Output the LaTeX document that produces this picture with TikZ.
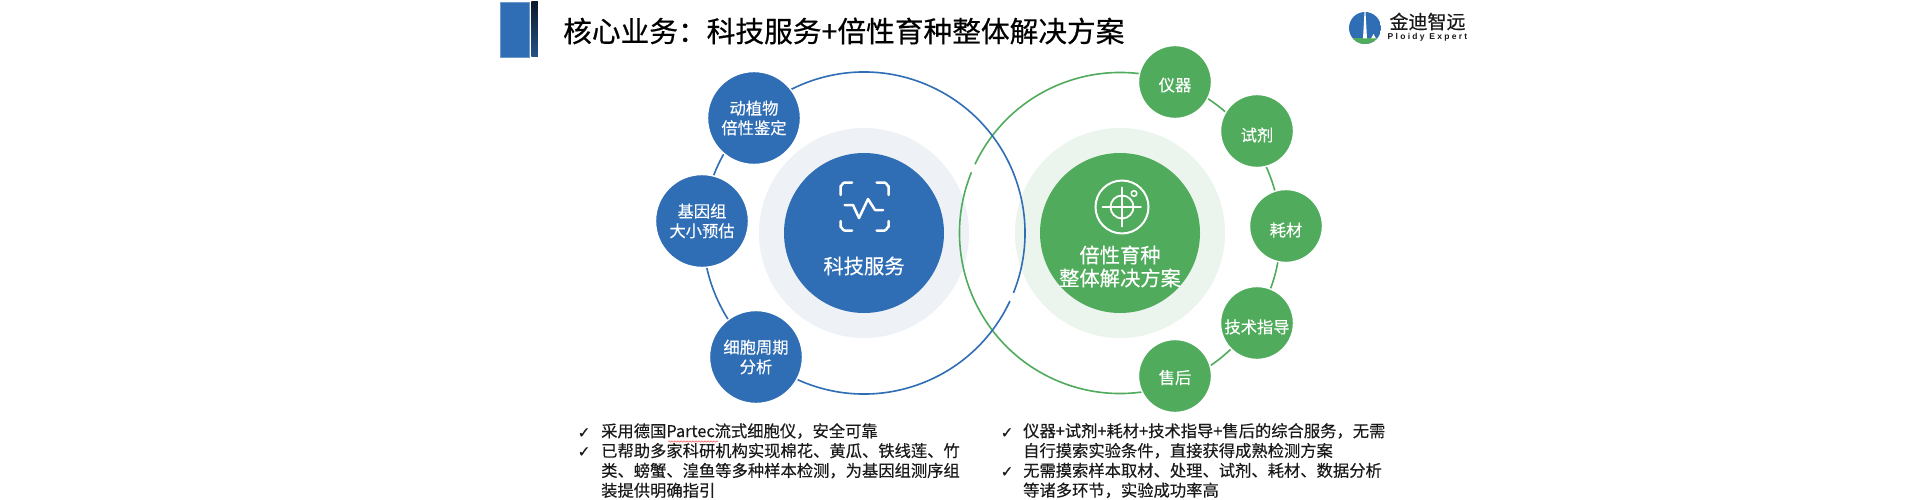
\documentclass[tikz,border=0pt]{standalone}
\usepackage{fontspec}
\usetikzlibrary{calc,decorations.pathmorphing}
\setmainfont[FakeBold=0.25]{Noto Sans CJK SC}
\newfontfamily\titlefont[FakeBold=0.5]{Noto Sans CJK SC}
\newfontfamily\checkfont[FakeBold=0.6]{DejaVu Sans}
\newfontfamily\logolatin[LetterSpace=27]{Liberation Sans}
\definecolor{bmain}{HTML}{2F6DB5}
\definecolor{gmain}{HTML}{50AC5C}
\definecolor{bhalo}{HTML}{EEF2F6}
\definecolor{ghalo}{HTML}{EBF5ED}
\definecolor{txt}{HTML}{1A1A1A}
\tikzset{
  disc/.style={circle,inner sep=0pt,outer sep=0pt,draw=white,line width=1.4pt,text=white,align=center,
    font=\fontsize{16.3}{19.6}\selectfont},
  bsmall/.style={disc,fill=bmain,minimum size=93pt},
  gsmall/.style={disc,fill=gmain,minimum size=73pt},
  halo/.style={circle,inner sep=0pt,minimum size=210pt},
  core/.style={circle,inner sep=0pt,minimum size=160pt},
  ringb/.style={draw=bmain,line width=1.6pt},
  ringg/.style={draw=gmain,line width=1.6pt},
  corelabel/.style={text=white,align=center,font=\fontsize{20.3}{23}\selectfont},
  iconline/.style={draw=white,line cap=round,line join=round},
  bullet/.style={anchor=north west,inner sep=0pt,align=left,text=txt,font=\fontsize{16.3}{19.8}\selectfont},
  tick/.style={anchor=center,inner sep=0pt,text=txt,font=\checkfont\fontsize{15}{15}\selectfont},
}
\begin{document}
\begin{tikzpicture}[x=1pt,y=-1pt]
\useasboundingbox (0,0) rectangle (1920,500);
\fill[white] (0,0) rectangle (1920,500);
% header
\fill[bmain,draw=bmain!70!white,line width=0.8pt] (500,2.5) rectangle (529,57);
\shade[top color=black!75!bmain,bottom color=bmain!75!black] (531.3,2) rectangle (537.8,57);
\node[anchor=west,inner sep=0pt,text=black,font=\titlefont\fontsize{28.7}{30}\selectfont] (title) at (563,31) {核心业务：科技服务+倍性育种整体解决方案};
% logo
\coordinate (logoc) at (1365,28);
\begin{scope}
\clip (logoc) circle (16);
\fill[bmain] (1349,12) rectangle (1381,44);
\fill[gmain] (1349,38.5) rectangle (1381,44);
\fill[white] (1364.5,12) -- (1365.5,12) -- (1367,38.5) -- (1363,38.5) -- cycle;
\fill[white] (1371,38.5) -- (1373.5,34) -- (1376,38.5) -- cycle;
\end{scope}
\node[inner sep=0pt,text=txt,font=\fontsize{19}{20}\selectfont] (logotext) at (1427.5,21.5) {金迪智远};
\node[inner sep=0pt,text=txt,font=\logolatin\bfseries\fontsize{8.5}{9}\selectfont] (logosub) at (1427.5,37.5) {Ploidy Expert};
% centres and halos
\node[halo,fill=bhalo] (hb) at (864,233) {};
\node[halo,fill=ghalo] (hg) at (1120,233) {};
% rings
\draw[ringg] ($(hg)+(154.6:160.5pt)$) arc[start angle=154.6,end angle=-202.2,radius=160.5pt];
\draw[ringb] ($(hb)+(-25:161pt)$) arc[start angle=-25,end angle=-381.8,radius=161pt];
% cores
\node[core,fill=bmain] (cb) at (hb) {};
\node[core,fill=gmain] (cg) at (hg) {};
% small discs
\node[bsmall] (b1) at (754,118) {动植物\\倍性鉴定};
\node[bsmall] (b2) at (702,221) {基因组\\大小预估};
\node[bsmall] (b3) at (756,357) {细胞周期\\分析};
\node[gsmall] (g1) at (1175,82) {};
\node[gsmall] (g2) at (1257,131) {};
\node[gsmall] (g3) at (1286,226) {};
\node[gsmall] (g4) at (1257,323) {};
\node[gsmall] (g5) at (1175,376) {};
\node[disc,draw=none,yshift=-3pt] (g1t) at (g1) {仪器};
\node[disc,draw=none,yshift=-4pt] (g2t) at (g2) {试剂};
\node[disc,draw=none,yshift=-4pt] (g3t) at (g3) {耗材};
\node[disc,draw=none,yshift=-4pt] (g4t) at (g4) {技术指导};
\node[disc,draw=none,yshift=-1.5pt] (g5t) at (g5) {售后};
% core labels
\node[corelabel] (lb) at (864,266) {科技服务};
\node[corelabel] (lg) at (1120,266.5) {倍性育种\\整体解决方案};
% scan icon
\begin{scope}[iconline,line width=2.5pt]
\draw (840.5,195) -- (840.5,186) to[out=-90,in=180] (844.5,182.5) -- (852,182.5);
\draw (876.5,182.5) -- (884.5,182.5) to[out=0,in=-90] (888.5,186) -- (888.5,195);
\draw (840.5,221) -- (840.5,227) to[out=90,in=180] (844.5,230.5) -- (852,230.5);
\draw (876.5,230.5) -- (884.5,230.5) to[out=0,in=90] (888.5,227) -- (888.5,221);
\draw (844.5,205) -- (853,205) -- (859,218) -- (868,199) -- (875,210) -- (883,210);
\end{scope}
% target icon
\begin{scope}[iconline]
\draw[line width=2pt] (1122,207) circle (26.5);
\draw[line width=1.8pt] (1122,207) circle (11.5);
\draw[line width=1.8pt] (1102.5,207) -- (1141,207);
\draw[line width=1.8pt] (1122,187.5) -- (1122,226.5);
\draw[line width=1.5pt] (1134,193.5) circle (2.8);
\end{scope}
% bullets
\node[tick] (t1) at (584,433) {✓};
\node[tick] (t2) at (584,452) {✓};
\node[bullet] (p1) at (601,423) {采用德国Partec流式细胞仪，安全可靠\\已帮助多家科研机构实现棉花、黄瓜、铁线莲、竹\\类、螃蟹、湟鱼等多种样本检测，为基因组测序组\\装提供明确指引};
\draw[red!70!white,line width=0.5pt,decorate,decoration={snake,amplitude=0.7pt,segment length=3pt}] (668,441.5) -- (718,441.5);
\node[tick] (t3) at (1007,433) {✓};
\node[tick] (t4) at (1007,472) {✓};
\node[bullet] (p2) at (1023,423) {仪器+试剂+耗材+技术指导+售后的综合服务，无需\\自行摸索实验条件，直接获得成熟检测方案\\无需摸索样本取材、处理、试剂、耗材、数据分析\\等诸多环节，实验成功率高};
\end{tikzpicture}
\end{document}
